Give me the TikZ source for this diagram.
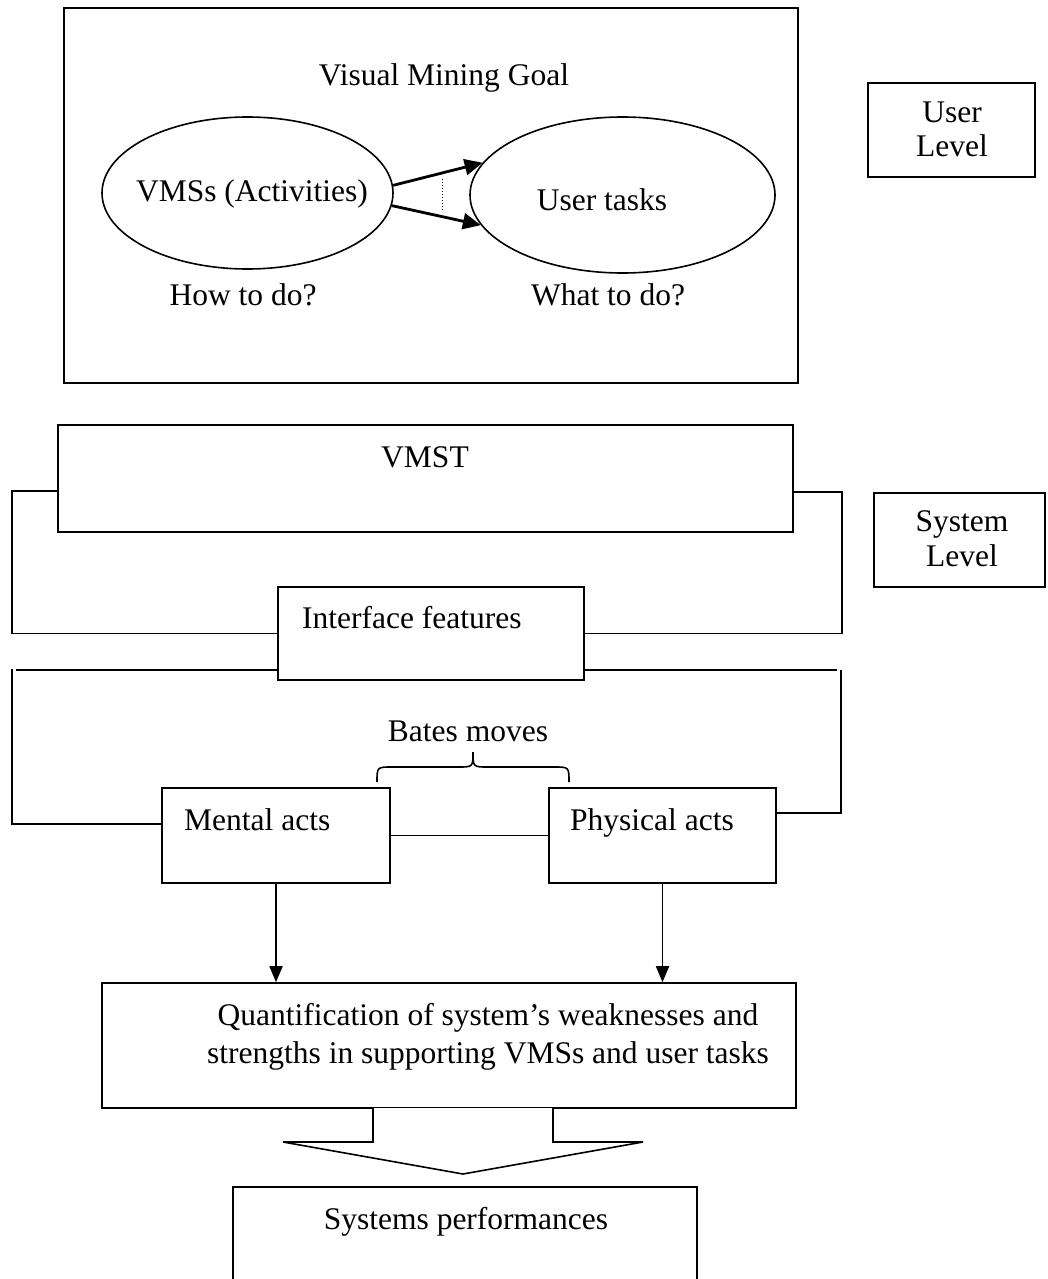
\documentclass[tikz,border=0pt]{standalone}
\usepackage{fontspec}
\setmainfont{Liberation Serif}
\usetikzlibrary{shapes.geometric,arrows.meta}
\begin{document}
\begin{tikzpicture}[x=1pt,y=-1pt,
  box/.style={draw, line width=1.6pt, rectangle, inner sep=0pt},
  oval/.style={draw, line width=1.6pt, ellipse, inner sep=0pt},
  txt/.style={inner sep=0pt, anchor=base, font=\fontsize{31.5}{36}\selectfont},
  ltxt/.style={txt, anchor=base west},
  wire/.style={line width=1.6pt},
  boldarrow/.style={line width=2.8pt, -{Triangle[length=18pt,width=16pt]}},
  downarrow/.style={line width=1.8pt, -{Triangle[length=16pt,width=13pt]}},
]
\useasboundingbox (0,0) rectangle (1048,1279);
\clip (0,0) rectangle (1048,1279);
\fill[white] (0,0) rectangle (1048,1279);

% ---- user level ----
\node[box, minimum width=734pt, minimum height=375pt] (goalbox) at (431,195.5) {};
\node[txt] (goal) at (444,86) {Visual Mining Goal};
\node[oval, minimum width=291pt, minimum height=152pt] (vms) at (247.5,193) {};
\node[oval, minimum width=305pt, minimum height=156pt] (tasks) at (622.5,195) {};
\node[txt] (vmstxt) at (252,201) {VMSs (Activities)};
\node[txt] (taskstxt) at (602,210) {User tasks};
\node[txt] (how) at (243,305) {How to do?};
\node[txt] (what) at (608,305) {What to do?};
\draw[boldarrow] (vms.3) -- (tasks.167);
\draw[boldarrow] (vms.-5.5) -- (tasks.192.5);
\draw[dotted, line width=1pt] (442,179) -- (442,211);

\node[box, minimum width=167pt, minimum height=94pt] (ulevel) at (951.5,130) {};
\node[txt] (ul1) at (952,123) {User};
\node[txt] (ul2) at (952,157) {Level};

% ---- system level ----
\node[box, minimum width=171pt, minimum height=94pt] (slevel) at (959.5,540) {};
\node[txt] (sl1) at (962,531) {System};
\node[txt] (sl2) at (962,566) {Level};

\node[box, minimum width=735pt, minimum height=107pt] (vmst) at (425.5,478.5) {};
\node[txt] (vmsttxt) at (425,467) {VMST};

\node[box, minimum width=306pt, minimum height=93pt] (iface) at (431,633.5) {};
\node[ltxt] (ifacetxt) at (302,628) {Interface features};

\draw[wire] ([yshift=-12.5pt]vmst.west) -- ++(-45,0) |- (iface.west);
\draw[wire] ([yshift=-13.5pt]vmst.east) -- ++(48,0) |- (iface.east);

\node[box, minimum width=228pt, minimum height=95pt] (mental) at (276,835.5) {};
\node[ltxt] (mentaltxt) at (184,830) {Mental acts};
\node[box, minimum width=227pt, minimum height=95pt] (physical) at (662.5,835.5) {};
\node[ltxt] (physicaltxt) at (570,830) {Physical acts};
\draw[wire] (mental.east) -- (physical.west);

\draw[wire] ([yshift=-36.5pt]iface.west) -- ++(-261,0);
\draw[wire] ([yshift=11.5pt]mental.west) -- ++(-149,0) -- ++(0,-155);
\draw[wire] ([yshift=-36.5pt]iface.east) -- ++(252,0);
\draw[wire] ([yshift=22.5pt]physical.east) -- ++(64,0) -- ++(0,-143);

% Bates moves brace
\node[txt] (bates) at (468,741) {Bates moves};
\draw[line width=1.6pt] (377,782) .. controls (377,767) .. (392,767) -- (458,767)
  .. controls (473,767) .. (473,752) .. controls (473,767) .. (488,767) -- (554,767)
  .. controls (569,767) .. (569,782);

% ---- results ----
\node[box, minimum width=694pt, minimum height=125pt] (quant) at (449,1045.5) {};
\node[txt] (q1) at (488,1025) {Quantification of system’s weaknesses and};
\node[txt] (q2) at (488,1063) {strengths in supporting VMSs and user tasks};
\draw[downarrow] (mental.south) -- (mental.south |- quant.north);
\draw[downarrow] (physical.south) -- (physical.south |- quant.north);

% block arrow
\draw[line width=1.6pt, fill=white] (373,1108) -- (373,1142) -- (283,1142) -- (463,1174)
  -- (643,1142) -- (553,1142) -- (553,1108);

\node[box, minimum width=464pt, minimum height=200pt] (perf) at (465,1287) {};
\node[txt] (perftxt) at (466,1229) {Systems performances};
\end{tikzpicture}
\end{document}
